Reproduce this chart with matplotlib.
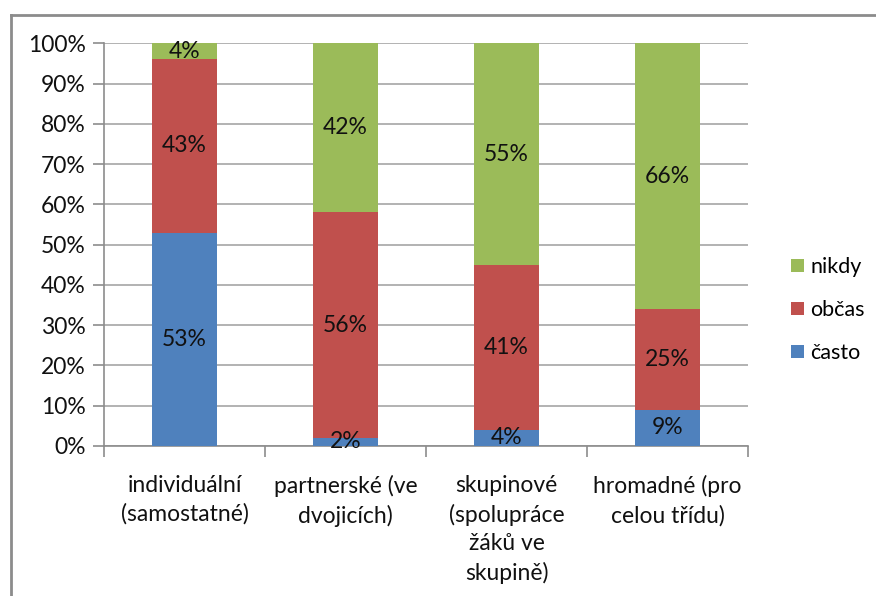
import matplotlib
matplotlib.use("Agg")
import matplotlib.pyplot as plt
from matplotlib.patches import Patch
from matplotlib.lines import Line2D
import numpy as np

plt.rcParams['font.family'] = ['Lato', 'DejaVu Sans']

categories = ["individuální\n(samostatné)", "partnerské (ve\ndvojicích)",
              "skupinové\n(spolupráce\nžáků ve\nskupině)", "hromadné (pro\ncelou třídu)"]
casto = [53, 2, 4, 9]
obcas = [43, 56, 41, 25]
nikdy = [4, 42, 55, 66]

series = [("často", casto, "#4F81BD"),
          ("občas", obcas, "#C0504D"),
          ("nikdy", nikdy, "#9BBB59")]

FS = 16.5
W, H = 876, 596
fig = plt.figure(figsize=(W / 100, H / 100), dpi=100)
ax = fig.add_axes([104 / W, 1 - 446 / H, (748 - 104) / W, (446 - 43.3) / H])

x = np.arange(len(categories))
bottom = np.zeros(len(categories))
for name, vals, col in series:
    vals = np.array(vals, dtype=float)
    ax.bar(x, vals, width=0.4, bottom=bottom, color=col, zorder=3)
    for xi, b, v in zip(x, bottom, vals):
        ax.text(xi, b + v / 2, f"{int(v)}%", ha="center", va="center",
                fontsize=FS, color="#111111", zorder=4)
    bottom += vals

ax.set_xlim(-0.5, len(categories) - 0.5)
ax.set_ylim(0, 100)
ax.set_yticks(np.arange(0, 101, 10))
ax.set_yticklabels([f"{v}%" for v in range(0, 101, 10)])
ax.yaxis.grid(True, color="#a6a6a6", linewidth=1.2, zorder=0)
ax.set_axisbelow(True)

ax.set_xticks(x)
ax.set_xticklabels(categories, linespacing=1.42)
ax.set_xticks(np.arange(-0.5, len(categories), 1), minor=True)
ax.tick_params(axis="x", which="major", length=0, pad=21, labelsize=FS, colors="#111111")
ax.tick_params(axis="x", which="minor", length=8, width=1.2, color="#8c8c8c")
ax.tick_params(axis="y", length=8, width=1.2, color="#8c8c8c", labelsize=FS,
               labelcolor="#111111", pad=5)
for lbl in ax.get_xticklabels():
    lbl.set_verticalalignment("top")

for s in ["top", "right"]:
    ax.spines[s].set_visible(False)
for s in ["left", "bottom"]:
    ax.spines[s].set_color("#8c8c8c")
    ax.spines[s].set_linewidth(1.2)

LFS = 15.5
handles = [Patch(facecolor=col, edgecolor="none", label=name) for name, _, col in reversed(series)]
fig.legend(handles=handles, loc="center left", bbox_to_anchor=(780 / W, 1 - 310 / H),
           frameon=False, fontsize=LFS, handlelength=0.6, handleheight=0.6,
           handletextpad=0.3, labelspacing=1.07, borderpad=0)

# outer chart frame (left and top edges)
fig.add_artist(Line2D([11 / W, 11 / W], [0, 1 - 15 / H], transform=fig.transFigure,
                      color="#8c8c8c", linewidth=2))
fig.add_artist(Line2D([11 / W, 1], [1 - 15 / H, 1 - 15 / H], transform=fig.transFigure,
                      color="#8c8c8c", linewidth=2))

fig.savefig("out.png", dpi=100)
